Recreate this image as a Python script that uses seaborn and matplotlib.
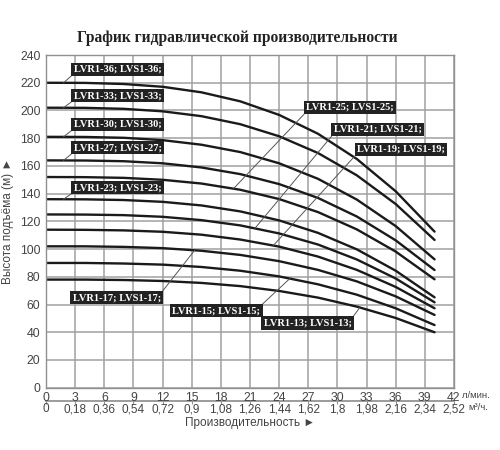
import numpy as np
import pandas as pd
import matplotlib
matplotlib.use("Agg")
import matplotlib.pyplot as plt
import seaborn as sns

# ---------------- Data ----------------
flow_lpm = [0, 4, 8, 12, 16, 20, 24, 28, 32, 36, 40]

h_36 = [220, 219.9, 219.1, 217.1, 213.1, 206.6, 196.8, 183.2, 165.0, 141.7, 112.6]
h_33 = [202, 201.9, 201.2, 199.4, 195.9, 190.1, 181.4, 169.3, 153.2, 132.5, 106.6]
h_30 = [181, 180.9, 180.3, 178.6, 175.3, 170.0, 161.9, 150.7, 135.7, 116.6, 92.6]
h_27 = [164, 163.9, 163.4, 161.9, 158.9, 154.1, 146.9, 136.9, 123.5, 106.3, 84.9]
h_25 = [152, 151.9, 151.4, 150.0, 147.3, 142.8, 136.1, 126.7, 114.2, 98.2, 78.2]
h_23 = [136, 135.9, 135.4, 134.1, 131.5, 127.2, 120.7, 111.7, 99.8, 84.4, 65.2]
h_21 = [125, 124.9, 124.5, 123.3, 120.9, 117.1, 111.3, 103.3, 92.5, 78.8, 61.6]
h_19 = [114, 113.9, 113.5, 112.5, 110.4, 106.9, 101.8, 94.6, 85.0, 72.7, 57.3]
h_17 = [102, 102.0, 101.6, 100.7, 98.8, 95.8, 91.3, 85.0, 76.7, 65.9, 52.5]
h_15 = [90, 90.0, 89.6, 88.8, 87.1, 84.4, 80.3, 74.6, 67.1, 57.3, 45.2]
h_13 = [78, 78.0, 77.7, 77.0, 75.6, 73.3, 69.8, 65.0, 58.5, 50.3, 40.0]

models = ["36", "33", "30", "27", "25", "23", "21", "19", "17", "15", "13"]
heads = [h_36, h_33, h_30, h_27, h_25, h_23, h_21, h_19, h_17, h_15, h_13]

x_ticks = list(range(0, 43, 3))
m3h_labels = ["0", "0,18", "0,36", "0,54", "0,72", "0,9", "1,08", "1,26", "1,44",
              "1,62", "1,8", "1,98", "2,16", "2,34", "2,52"]
y_ticks = list(range(0, 241, 20))

# label box (left x, centre y), curve anchor x, leader corner on box
label_pos = {
    "36": (2.85, 229.7, 1.8, (0, 0)),
    "33": (2.85, 210.7, 1.8, (0, 0)),
    "30": (2.85, 190.0, 1.8, (0, 0)),
    "27": (2.85, 173.2, 1.8, (0, 0)),
    "23": (2.85, 144.3, 1.8, (0, 0)),
    "25": (26.8, 202.3, 19.3, (0, 0)),
    "21": (29.6, 186.4, 21.5, (0, 0)),
    "19": (32.0, 172.0, 23.4, (0, 0)),
    "17": (2.75, 65.0, 15.3, (1, 1)),
    "15": (13.0, 55.6, 25.1, (1, 1)),
    "13": (22.4, 46.5, 32.3, (1, 1)),
}

df = pd.DataFrame({
    "flow": flow_lpm * len(models),
    "head": np.concatenate(heads),
    "model": np.repeat(models, len(flow_lpm)),
})

# ---------------- Plot ----------------
sns.set_theme(style="white")
plt.rcParams["font.family"] = ["Liberation Sans", "DejaVu Sans"]

fig = plt.figure(figsize=(5, 4.5), dpi=100)
ax = fig.add_axes([0.092, 0.1384, 0.816, 0.7393])

sns.lineplot(data=df, x="flow", y="head", units="model", estimator=None,
             color="#1a1a1a", linewidth=1.7, ax=ax, legend=False)

ax.set_xlim(0, 42)
ax.set_ylim(0, 240)
ax.set_xticks(x_ticks)
ax.set_yticks(y_ticks)
ax.grid(True, color="#a0a0a0", linewidth=1.1)
ax.set_axisbelow(True)
for sp in ax.spines.values():
    sp.set_color("#909090")
    sp.set_linewidth(1.0)
ax.tick_params(axis="both", colors="#909090", labelcolor="#444444", labelsize=8.8,
               length=3, width=0.8, direction="out", pad=1)
ax.tick_params(axis="x", pad=0)
ax.set_xlabel("")
ax.set_ylabel("Высота подъёма (м) ►", fontsize=8.5, color="#444444", labelpad=4)

# second x axis in m3/h
sec = ax.secondary_xaxis(-0.039, functions=(lambda q: q * 0.06, lambda q: q / 0.06))
sec.set_xticks([t * 0.06 for t in x_ticks])
sec.set_xticklabels(m3h_labels)
sec.spines["bottom"].set_color("#909090")
sec.tick_params(axis="x", colors="#909090", labelcolor="#444444", labelsize=8.5,
                length=2, width=0.8, pad=0)
sec.set_xlabel("Производительность ►", fontsize=8.5, color="#444444", labelpad=1)

ax.text(1.02, -0.022, "л/мин.", transform=ax.transAxes, fontsize=6.8,
        color="#444444", ha="left", va="center")
ax.text(1.035, -0.06, "м³/ч.", transform=ax.transAxes, fontsize=6.8,
        color="#444444", ha="left", va="center")

# model labels with leader lines
for name, h in zip(models, heads):
    tx, ty, ax_x, corner = label_pos[name]
    ay = np.interp(ax_x, flow_lpm, h)
    ax.annotate(f"LVR1-{name}; LVS1-{name};", xy=(ax_x, ay), xytext=(tx, ty),
                textcoords="data", ha="left", va="center", color="white",
                fontsize=7.5, fontweight="bold", family="Liberation Serif",
                bbox=dict(boxstyle="square,pad=0.22", fc="#222222", ec="none"),
                arrowprops=dict(arrowstyle="-", color="#555555", lw=0.7,
                                shrinkA=0, shrinkB=0, relpos=corner))

fig.text(0.475, 0.915, "График гидравлической производительности",
         family="Liberation Serif", fontweight="bold", fontsize=11.2,
         color="#222222", ha="center", va="center")

fig.savefig("out.png", dpi=100, facecolor="white")
